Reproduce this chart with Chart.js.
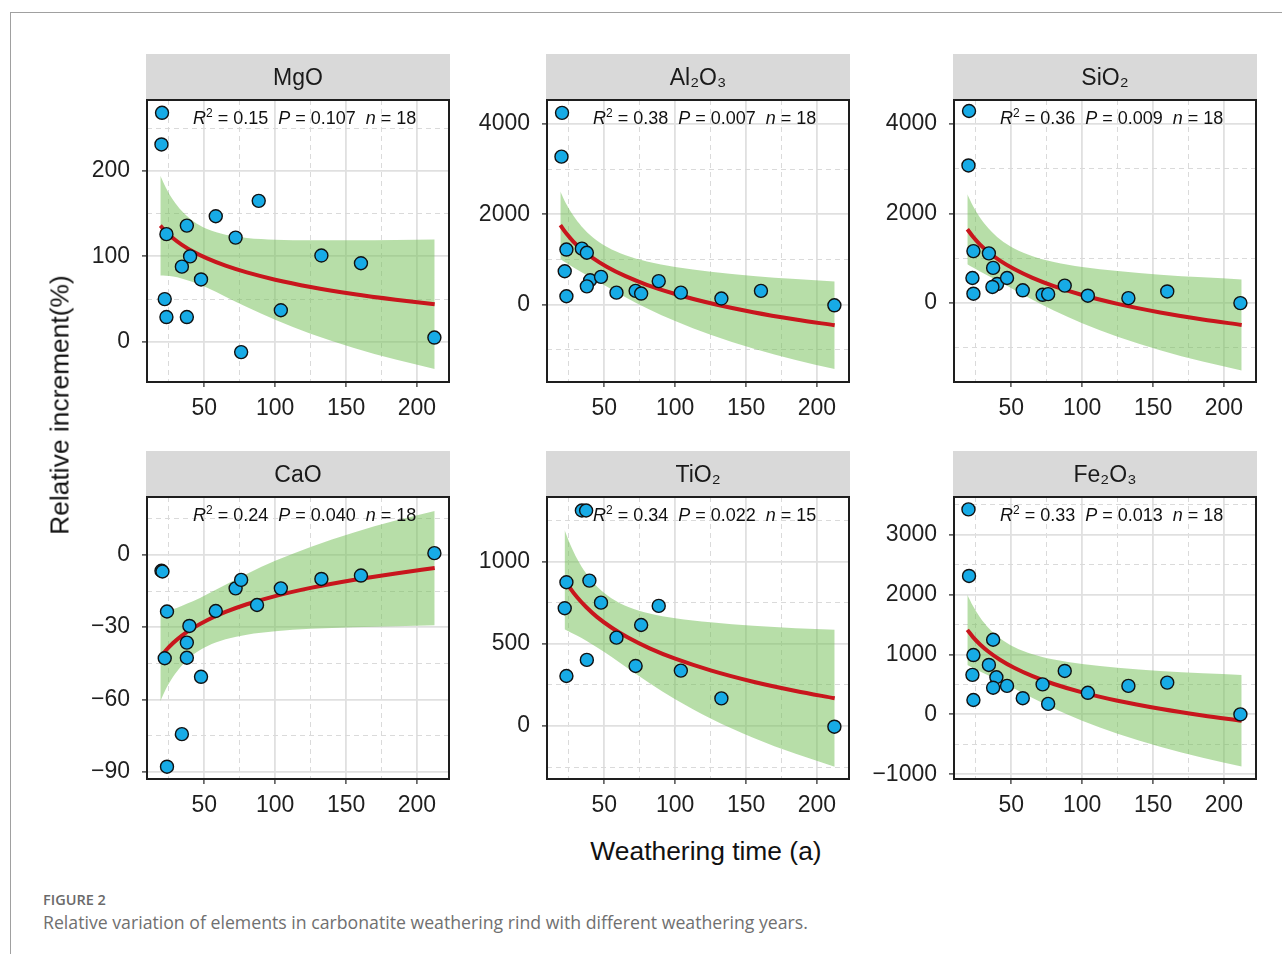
<!DOCTYPE html>
<html><head><meta charset="utf-8">
<script src="https://cdn.jsdelivr.net/npm/chart.js@4/dist/chart.umd.min.js"></script>
<style>
html,body{margin:0;padding:0;background:#fff;}
body{width:1282px;height:954px;position:relative;overflow:hidden;font-family:'Liberation Sans',Arial,sans-serif;}
#frame{position:absolute;left:10px;top:12px;width:1300px;height:1000px;border-top:1px solid #a0a0a0;border-left:1px solid #a0a0a0;}
canvas.pc{position:absolute;}
#ytitle{position:absolute;left:60px;top:405px;transform:translate(-50%,-50%) rotate(-90deg);font-size:26.4px;white-space:nowrap;color:#111;}
#xtitle{position:absolute;left:706px;top:851px;transform:translate(-50%,-50%);font-size:26.4px;white-space:nowrap;color:#111;}
#figlabel{position:absolute;left:43px;top:890px;font-family:'Open Sans',sans-serif;font-size:14.5px;color:#6a6a6a;font-weight:600;}
#caption{position:absolute;left:43px;top:910px;font-family:'Open Sans',sans-serif;font-size:17.7px;color:#707070;white-space:nowrap;}
</style></head>
<body>
<div id="frame"></div>
<canvas class="pc" id="c0" width="410" height="373"></canvas>
<canvas class="pc" id="c1" width="410" height="373"></canvas>
<canvas class="pc" id="c2" width="410" height="373"></canvas>
<canvas class="pc" id="c3" width="410" height="373"></canvas>
<canvas class="pc" id="c4" width="410" height="373"></canvas>
<canvas class="pc" id="c5" width="410" height="373"></canvas>
<div id="ytitle">Relative increment(%)</div>
<div id="xtitle">Weathering time (a)</div>
<div id="figlabel">FIGURE 2</div>
<div id="caption">Relative variation of elements in carbonatite weathering rind with different weathering years.</div>
<script>
// ---------- data ----------
const panelNames = ['MgO', 'Al\u2082O\u2083', 'SiO\u2082', 'CaO', 'TiO\u2082', 'Fe\u2082O\u2083'];
const statR2 = ['0.15', '0.38', '0.36', '0.24', '0.34', '0.33'];
const statP  = ['0.107', '0.007', '0.009', '0.040', '0.022', '0.013'];
const statN  = ['18', '18', '18', '18', '15', '18'];

const xRange = [9.6, 222.6];
const xMajor = [50, 100, 150, 200];
const xMinor = [25, 75, 125, 175];

// observations
const MgO_x = [20.2, 19.8, 23.3, 37.7, 58.1, 88.4, 72.1, 40.0, 34.2, 47.7, 22.1, 23.3, 37.7, 104.0, 132.6, 160.5, 212.3, 76.0];
const MgO_y = [268, 231, 126, 136, 147, 165, 122, 100, 88, 73, 50, 29, 29, 37, 101, 92, 5, -12];
const Al2O3_x = [20.2, 19.8, 23.3, 34.2, 37.7, 22.1, 40.0, 47.7, 37.7, 23.3, 58.6, 72.1, 76.0, 88.4, 104.0, 132.6, 160.5, 212.3];
const Al2O3_y = [4250, 3280, 1220, 1240, 1150, 740, 540, 615, 405, 185, 265, 305, 245, 520, 265, 135, 305, -15];
const SiO2_x = [20.2, 19.8, 23.3, 34.2, 37.2, 22.6, 40.0, 47.0, 36.7, 23.3, 58.1, 72.1, 76.0, 87.7, 104.0, 132.6, 160.0, 211.6];
const SiO2_y = [4285, 3070, 1160, 1110, 785, 560, 425, 560, 360, 210, 285, 185, 200, 390, 165, 110, 260, 0];
const CaO_x = [19.8, 20.5, 23.7, 39.5, 37.7, 22.1, 37.7, 47.7, 58.1, 72.1, 76.0, 87.2, 104.0, 132.6, 160.5, 212.3, 34.2, 23.7];
const CaO_y = [-6.6, -6.9, -23.5, -29.5, -36.4, -42.9, -42.7, -50.6, -23.3, -13.9, -10.4, -20.8, -13.9, -10.0, -8.6, 0.7, -74.4, -87.9];
const TiO2_x = [34.2, 37.2, 23.3, 39.5, 22.1, 47.7, 88.4, 76.0, 58.6, 37.7, 23.3, 72.1, 104.0, 132.6, 212.3];
const TiO2_y = [1310, 1310, 874, 884, 716, 750, 730, 614, 537, 402, 304, 365, 337, 168, -4];
const Fe2O3_x = [19.8, 20.2, 37.2, 23.3, 34.2, 22.6, 39.5, 37.2, 47.0, 23.3, 58.1, 72.1, 76.0, 87.7, 104.0, 132.6, 160.0, 211.6];
const Fe2O3_y = [3420, 2310, 1245, 990, 825, 660, 620, 445, 475, 240, 270, 500, 175, 725, 360, 475, 530, 0];

// fitted curves and confidence bands
const fitX   = [19, 23, 28, 34, 42, 52, 65, 80, 100, 125, 155, 185, 212.5];
const fitX_Ti = [22, 26, 31, 37, 45, 55, 67, 82, 100, 125, 155, 185, 212.5];
const MgO_fit = [136, 128.7, 121.2, 113.8, 105.7, 97.6, 89.1, 81.2, 72.7, 64.2, 56.0, 49.3, 44.0];
const MgO_hi  = [194.3, 180.0, 166.0, 153.4, 141.4, 132.0, 125.3, 121.6, 119.6, 118.8, 118.9, 119.3, 119.8];
const MgO_lo  = [77.7, 77.4, 76.4, 74.2, 70.0, 63.2, 52.9, 40.8, 25.8, 9.6, -6.9, -20.7, -31.8];
const Al2O3_fit = [1760, 1585, 1404, 1225, 1031, 835, 630, 439, 235, 30, -168, -330, -458];
const Al2O3_hi  = [2507, 2242, 1978, 1732, 1488, 1276, 1094, 957, 835, 729, 637, 567, 513];
const Al2O3_lo  = [1013, 928, 830, 718, 574, 394, 166, -79, -365, -669, -973, -1227, -1429];
const SiO2_fit = [1648, 1479, 1305, 1134, 946, 758, 561, 377, 180, -17, -208, -364, -487];
const SiO2_hi  = [2429, 2166, 1905, 1664, 1424, 1219, 1046, 918, 807, 714, 634, 574, 529];
const SiO2_lo  = [867, 792, 705, 604, 468, 297, 76, -164, -447, -748, -1050, -1302, -1503];
const CaO_fit = [-42.5, -39.6, -36.6, -33.6, -30.4, -27.1, -23.7, -20.5, -17.1, -13.7, -10.4, -7.7, -5.5];
const CaO_hi  = [-24.3, -23.6, -22.6, -21.2, -19.3, -16.3, -12.4, -7.9, -2.5, 3.3, 9.2, 14.2, 18.2];
const CaO_lo  = [-60.7, -55.6, -50.6, -46.0, -41.5, -37.9, -35.0, -33.1, -31.7, -30.7, -30.0, -29.6, -29.2];
const TiO2_fit = [890, 837, 781, 725, 662, 599, 536, 472, 409, 338, 269, 213, 169];
const TiO2_hi  = [1192, 1104, 1014, 930, 847, 777, 724, 684, 655, 630, 609, 595, 585];
const TiO2_lo  = [588, 570, 548, 520, 477, 421, 348, 260, 163, 46, -71, -169, -247];
const Fe2O3_fit = [1410, 1290, 1167, 1045, 912, 778, 638, 507, 367, 227, 93, -19, -106];
const Fe2O3_hi  = [1997, 1807, 1618, 1443, 1271, 1125, 1003, 914, 839, 777, 726, 686, 658];
const Fe2O3_lo  = [823, 773, 716, 647, 553, 431, 273, 100, -105, -323, -540, -724, -870];

// y axes
const MgO_range = [-47, 283];   const MgO_major = [0, 100, 200];              const MgO_minor = [50, 150, 250];
const Al2O3_range = [-1715, 4535]; const Al2O3_major = [0, 2000, 4000];      const Al2O3_minor = [-1000, 1000, 3000];
const SiO2_range = [-1760, 4530]; const SiO2_major = [0, 2000, 4000];        const SiO2_minor = [-1000, 1000, 3000];
const CaO_range = [-93, 24];    const CaO_major = [-90, -60, -30, 0];         const CaO_minor = [-75, -45, -15, 15];
const TiO2_range = [-322, 1392]; const TiO2_major = [0, 500, 1000];           const TiO2_minor = [-250, 250, 750, 1250];
const Fe2O3_range = [-1078, 3627]; const Fe2O3_major = [-1000, 0, 1000, 2000, 3000]; const Fe2O3_minor = [-500, 500, 1500, 2500, 3500];

const panels = [
  {xs: MgO_x, ys: MgO_y, fx: fitX, fit: MgO_fit, hi: MgO_hi, lo: MgO_lo, yr: MgO_range, major: MgO_major, minor: MgO_minor},
  {xs: Al2O3_x, ys: Al2O3_y, fx: fitX, fit: Al2O3_fit, hi: Al2O3_hi, lo: Al2O3_lo, yr: Al2O3_range, major: Al2O3_major, minor: Al2O3_minor},
  {xs: SiO2_x, ys: SiO2_y, fx: fitX, fit: SiO2_fit, hi: SiO2_hi, lo: SiO2_lo, yr: SiO2_range, major: SiO2_major, minor: SiO2_minor},
  {xs: CaO_x, ys: CaO_y, fx: fitX, fit: CaO_fit, hi: CaO_hi, lo: CaO_lo, yr: CaO_range, major: CaO_major, minor: CaO_minor},
  {xs: TiO2_x, ys: TiO2_y, fx: fitX_Ti, fit: TiO2_fit, hi: TiO2_hi, lo: TiO2_lo, yr: TiO2_range, major: TiO2_major, minor: TiO2_minor},
  {xs: Fe2O3_x, ys: Fe2O3_y, fx: fitX, fit: Fe2O3_fit, hi: Fe2O3_hi, lo: Fe2O3_lo, yr: Fe2O3_range, major: Fe2O3_major, minor: Fe2O3_minor}
];

// ---------- layout ----------
const colLeft = [147, 547, 954];
const rowTop = [54, 451];
const STRIP = 46, YW = 100, XH = 45;
const FONT = '"Liberation Sans", Arial, sans-serif';

function fmt(v) { return String(v).replace('-', '\u2212'); }
function pts(xs, ys) { return xs.map((x, i) => ({x: x, y: ys[i]})); }

const deco = {
  id: 'deco',
  beforeDraw(chart, args, o) {
    const a = chart.chartArea, ctx = chart.ctx;
    ctx.save();
    ctx.fillStyle = '#d9d9d9';
    ctx.fillRect(a.left - 1, a.top - STRIP, a.right - a.left + 2, STRIP);
    ctx.fillStyle = '#1a1a1a';
    ctx.font = '23px ' + FONT;
    ctx.textAlign = 'center';
    ctx.textBaseline = 'middle';
    ctx.fillText(o.title, (a.left + a.right) / 2, a.top - STRIP / 2 + 1.5);
    ctx.restore();
  },
  afterDatasetsDraw(chart, args, o) {
    const a = chart.chartArea, ctx = chart.ctx;
    ctx.save();
    ctx.strokeStyle = '#1e1e1e';
    ctx.lineWidth = 2;
    ctx.strokeRect(a.left, a.top, a.right - a.left, a.bottom - a.top);
    // stats text
    let x = a.left + 46;
    const y = a.top + 24;
    ctx.fillStyle = '#111';
    ctx.textBaseline = 'alphabetic';
    ctx.textAlign = 'left';
    const segs = [
      ['R', 'italic 18px ' + FONT, 0],
      ['2', '12px ' + FONT, -7],
      [' = ' + o.r2 + '  ', '18px ' + FONT, 0],
      ['P', 'italic 18px ' + FONT, 0],
      [' = ' + o.p + '  ', '18px ' + FONT, 0],
      ['n', 'italic 18px ' + FONT, 0],
      [' = ' + o.n, '18px ' + FONT, 0]
    ];
    for (const s of segs) {
      ctx.font = s[1];
      ctx.fillText(s[0], x, y + s[2]);
      x += ctx.measureText(s[0]).width;
    }
    ctx.restore();
  }
};

function gridOpts(majorList) {
  const isMaj = c => c.tick && majorList.includes(c.tick.value);
  return {
    grid: {
      color: c => isMaj(c) ? '#e0e0e0' : '#dadada',
      lineWidth: c => isMaj(c) ? 1.8 : 1,
      tickLength: 5,
      tickWidth: 1.3,
      tickColor: c => isMaj(c) ? '#333' : 'rgba(0,0,0,0)'
    },
    border: {display: false, dash: c => isMaj(c) ? [] : [5, 4]}
  };
}

panels.forEach((p, i) => {
  const col = i % 3, row = Math.floor(i / 3);
  const cv = document.getElementById('c' + i);
  cv.style.left = (colLeft[col] - YW) + 'px';
  cv.style.top = rowTop[row] + 'px';
  const xAll = xMajor.concat(xMinor).sort((a, b) => a - b);
  const yAll = p.major.concat(p.minor).sort((a, b) => a - b);
  const gx = gridOpts(xMajor), gy = gridOpts(p.major);
  new Chart(cv, {
    type: 'line',
    data: {
      datasets: [
        {data: pts(p.xs, p.ys), showLine: false, pointRadius: 6.5, pointHoverRadius: 6.5,
         pointBackgroundColor: '#17abe6', pointBorderColor: '#111', pointBorderWidth: 1.4, order: 0, clip: false},
        {data: pts(p.fx, p.fit), borderColor: '#c8161d', borderWidth: 4, pointRadius: 0, fill: false,
         cubicInterpolationMode: 'monotone', order: 1},
        {data: pts(p.fx, p.hi), borderColor: 'rgba(0,0,0,0)', borderWidth: 0.01, pointRadius: 0, fill: false,
         cubicInterpolationMode: 'monotone', order: 2},
        {data: pts(p.fx, p.lo), borderColor: 'rgba(0,0,0,0)', borderWidth: 0.01, pointRadius: 0, fill: '-1',
         backgroundColor: 'rgba(112,190,82,0.5)', cubicInterpolationMode: 'monotone', order: 3}
      ]
    },
    options: {
      responsive: false, animation: false, events: [],
      layout: {padding: {top: STRIP, right: 8, left: 0, bottom: 0}},
      plugins: {legend: {display: false}, tooltip: {enabled: false},
        deco: {title: panelNames[i], r2: statR2[i], p: statP[i], n: statN[i]}},
      scales: {
        x: {type: 'linear', min: xRange[0], max: xRange[1],
          afterBuildTicks: ax => { ax.ticks = xAll.map(v => ({value: v})); },
          afterFit: ax => { ax.height = XH; },
          ticks: {autoSkip: false, maxRotation: 0, padding: 8, color: '#1f1f1f', font: {size: 23, family: FONT},
            callback: v => xMajor.includes(v) ? fmt(v) : ''},
          grid: gx.grid, border: gx.border},
        y: {type: 'linear', min: p.yr[0], max: p.yr[1],
          afterBuildTicks: ax => { ax.ticks = yAll.map(v => ({value: v})); },
          afterFit: ax => { ax.width = YW; },
          ticks: {autoSkip: false, padding: 12, color: '#1f1f1f', font: {size: 23, family: FONT},
            callback: v => p.major.includes(v) ? fmt(v) : ''},
          grid: gy.grid, border: gy.border}
      }
    },
    plugins: [deco]
  });
});
</script>
</body></html>
